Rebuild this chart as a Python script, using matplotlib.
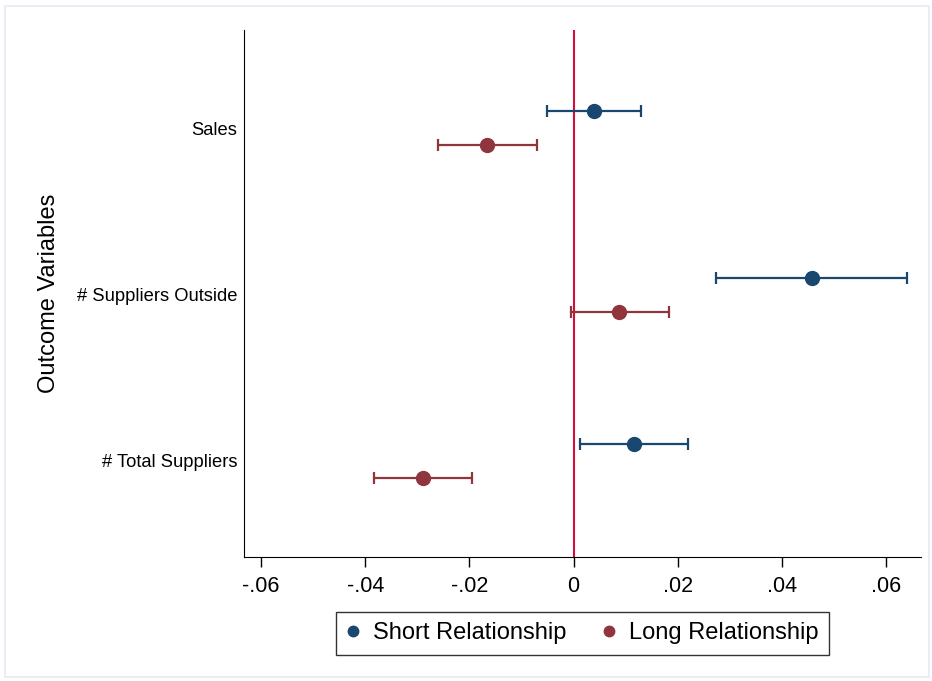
import matplotlib
matplotlib.use("Agg")
import matplotlib.pyplot as plt
from matplotlib import font_manager
from matplotlib.patches import Rectangle

plt.rcParams['font.family'] = ['Liberation Sans', 'DejaVu Sans']

outcomes = ["Sales", "# Suppliers Outside", "# Total Suppliers"]
ypos = [3, 2, 1]

short_est = [0.0039, 0.0458, 0.0116]
short_lo = [-0.0052, 0.0274, 0.0012]
short_hi = [0.0129, 0.0641, 0.0219]

long_est = [-0.0167, 0.0088, -0.0289]
long_lo = [-0.0261, -0.0006, -0.0383]
long_hi = [-0.0071, 0.0184, -0.0196]

xticks = [-0.06, -0.04, -0.02, 0, 0.02, 0.04, 0.06]
xticklabels = ["-.06", "-.04", "-.02", "0", ".02", ".04", ".06"]

navy = "#1a476f"
maroon = "#90353b"

# narrow font for the x tick labels if there is one
names = {f.name for f in font_manager.fontManager.ttflist}
if 'Liberation Sans Narrow' in names:
    tick_font = dict(family='Liberation Sans Narrow', fontsize=18)
else:
    tick_font = dict(family='Liberation Sans', fontsize=15.5)

fig = plt.figure(figsize=(9.32, 6.81), dpi=100)
ax = fig.add_axes([244/932, 1-557/681, (921-244)/932, (557-30)/681])

off = 0.102
series = [
    ("Short Relationship", short_est, short_lo, short_hi, navy, +off),
    ("Long Relationship", long_est, long_lo, long_hi, maroon, -off),
]
for name, est, lo, hi, col, d in series:
    y = [p + d for p in ypos]
    err = [[e - l for e, l in zip(est, lo)], [h - e for e, h in zip(est, hi)]]
    ax.errorbar(est, y, xerr=err, fmt='none', ecolor=col, elinewidth=1.6,
                capsize=4.5, capthick=1.6, zorder=2)
    ax.plot(est, y, 'o', color=col, markersize=10, label=name, zorder=3,
            linestyle='none')

ax.axvline(0, color="#d0103a", linewidth=1.5, zorder=1)

ax.set_xlim(-0.0633, 0.0667)
ax.set_ylim(0.423, 3.59)
ax.set_xticks(xticks)
ax.set_xticklabels(xticklabels, **tick_font)
ax.set_yticks(ypos)
ax.set_yticklabels(outcomes, fontsize=13.2)
ax.tick_params(axis='y', length=0, pad=5)
ax.tick_params(axis='x', length=7, width=1, pad=7)
ax.spines['top'].set_visible(False)
ax.spines['right'].set_visible(False)
ax.set_ylabel("Outcome Variables", fontsize=17, labelpad=12)

leg = ax.legend(loc='upper center', bbox_to_anchor=(0.5, -0.104), ncol=2,
                fontsize=17, frameon=True, fancybox=False, edgecolor='black',
                handletextpad=0.6, columnspacing=1.55, borderpad=0.45,
                borderaxespad=0, handlelength=0.5, markerscale=0.75)
leg.get_frame().set_linewidth(1.0)

fig.patches.append(Rectangle((5/932, 4/681), (929-5)/932, (675-4)/681,
                             transform=fig.transFigure, fill=False,
                             edgecolor="#e8eef3", linewidth=1.5))

fig.savefig("out.png", dpi=100)
